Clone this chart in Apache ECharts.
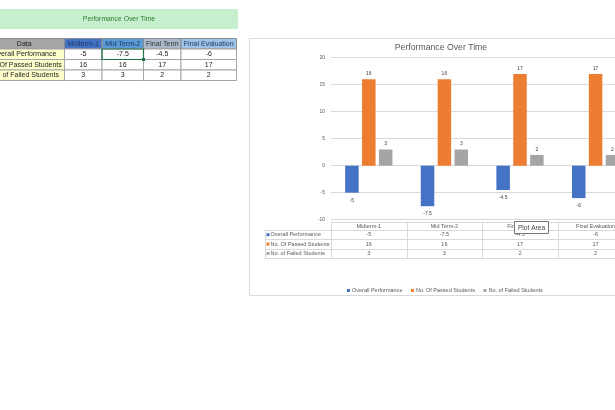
<!DOCTYPE html>
<html><head><meta charset="utf-8">
<script src="https://cdn.jsdelivr.net/npm/echarts@6/dist/echarts.min.js"></script>
<style>html,body{margin:0;padding:0;overflow:hidden;background:#fff}#c{width:660px;height:410px}</style>
</head><body><div id="c"></div>
<script>
// ---- data ----
const chartTitle = 'Performance Over Time';
const categories = ['Midterm-1', 'Mid Term-2', 'Final Term', 'Final Evaluation'];
const seriesNames = ['Overall Performance', 'No. Of Passed Students', 'No. of Failed Students'];
const overallPerformance = [-5, -7.5, -4.5, -6];
const passedStudents = [16, 16, 17, 17];
const failedStudents = [3, 3, 2, 2];
const sheetHeader = 'Data';
const yMin = -10, yMax = 20, yStep = 5;
const tooltipText = 'Plot Area';

// ---- styles ----
const FONT = '"Liberation Sans", Arial, sans-serif';
const colors = ['#4472c4', '#ed7d31', '#a5a5a5'];
const seriesValues = [overallPerformance, passedStudents, failedStudents];
const axisGray = '#595959';

const chart = echarts.init(document.getElementById('c'), null, {renderer: 'canvas'});

const gridLeft = 331, gridTop = 57.7, gridW = 302.4, gridH = 162;

const option = {
  animation: false,
  textStyle: {fontFamily: FONT},
  grid: {left: gridLeft, top: gridTop, width: gridW, height: gridH, containLabel: false},
  xAxis: {
    type: 'category', data: categories,
    axisLine: {show: false}, axisTick: {show: false}, axisLabel: {show: false},
    splitLine: {show: false}
  },
  yAxis: {
    type: 'value', min: yMin, max: yMax, interval: yStep,
    axisLine: {show: false}, axisTick: {show: false},
    axisLabel: {fontSize: 5, color: axisGray, margin: 6, fontFamily: FONT},
    splitLine: {lineStyle: {color: '#d9d9d9', width: 1}}
  },
  legend: {
    data: seriesNames, left: 342, top: 282.5, orient: 'horizontal',
    itemWidth: 3, itemHeight: 3, itemGap: 8.5, icon: 'rect',
    textStyle: {fontSize: 5.5, color: axisGray, fontFamily: FONT, padding: [0, 0, 0, -3]}
  },
  series: seriesNames.map((name, i) => ({
    name, type: 'bar', data: seriesValues[i],
    barWidth: 13.5, barGap: '25%',
    itemStyle: {color: colors[i]},
    label: {
      show: true, position: i === 0 ? 'bottom' : 'top', distance: i === 0 ? 5 : 3,
      fontSize: 5, color: '#404040', fontFamily: FONT
    }
  }))
};
chart.setOption(option);

// ---- build graphic (chart frame, data table, spreadsheet) ----
const g = [];
// chart frame
g.push({type: 'rect', shape: {x: 249.5, y: 38.5, width: 430, height: 257}, style: {fill: 'none', stroke: '#d9d9d9', lineWidth: 1}, z: 1});
// title
g.push({type: 'text', x: 441, y: 48, style: {text: chartTitle, fontSize: 8.7, fontFamily: FONT, fill: axisGray, align: 'center', verticalAlign: 'middle'}});

// data table under the plot
const centers = categories.map(c => chart.convertToPixel({xAxisIndex: 0}, c));
const band = centers[1] - centers[0];
const plotBottom = chart.convertToPixel({yAxisIndex: 0}, yMin);
const tTop = plotBottom + 2, hdrH = 8.3, rowH = 9.4;
const rowYs = [tTop, tTop + hdrH, tTop + hdrH + rowH, tTop + hdrH + 2 * rowH, tTop + hdrH + 3 * rowH];
const lblLeft = 264.7;
const colLeft = centers[0] - band / 2;
const colRight = centers[centers.length - 1] + band / 2;
const lineC = '#d9d9d9';
const hl = (x1, x2, y) => g.push({type: 'line', shape: {x1, y1: Math.round(y) + 0.5, x2, y2: Math.round(y) + 0.5}, style: {stroke: lineC, lineWidth: 1}});
const vl = (x, y1, y2) => g.push({type: 'line', shape: {x1: Math.round(x) + 0.5, y1, x2: Math.round(x) + 0.5, y2}, style: {stroke: lineC, lineWidth: 1}});
hl(colLeft, colRight, rowYs[0]);
for (let r = 1; r < rowYs.length; r++) hl(lblLeft, colRight, rowYs[r]);
vl(lblLeft, rowYs[1], rowYs[4]);
for (let i = 0; i <= categories.length; i++) vl(colLeft + i * band, rowYs[0], rowYs[4]);
categories.forEach((c, i) => g.push({type: 'text', x: centers[i], y: (rowYs[0] + rowYs[1]) / 2 + 0.5, style: {text: c, fontSize: 5.5, fontFamily: FONT, fill: axisGray, align: 'center', verticalAlign: 'middle'}}));
seriesNames.forEach((n, r) => {
  const cy = (rowYs[r + 1] + rowYs[r + 2]) / 2;
  g.push({type: 'rect', shape: {x: 266.5, y: cy - 1.5, width: 3, height: 3}, style: {fill: colors[r]}});
  g.push({type: 'text', x: 270.5, y: cy, style: {text: n, fontSize: 5.5, fontFamily: FONT, fill: axisGray, align: 'left', verticalAlign: 'middle'}});
  seriesValues[r].forEach((v, i) => g.push({type: 'text', x: centers[i], y: cy, style: {text: String(v), fontSize: 5.5, fontFamily: FONT, fill: axisGray, align: 'center', verticalAlign: 'middle'}}));
});
// hover tooltip box from the screenshot
g.push({type: 'rect', shape: {x: 514.5, y: 221.5, width: 34, height: 12}, style: {fill: '#ffffff', stroke: '#767676', lineWidth: 1}, z: 20});
g.push({type: 'text', x: 531.5, y: 228, style: {text: tooltipText, fontSize: 6.6, fontFamily: FONT, fill: '#444', align: 'center', verticalAlign: 'middle'}, z: 21});

// spreadsheet on the left
g.push({type: 'rect', shape: {x: 0, y: 9, width: 238, height: 20}, style: {fill: '#c6efce'}});
g.push({type: 'text', x: 119, y: 19, style: {text: chartTitle, fontSize: 6.8, fontFamily: FONT, fill: '#2f7d32', align: 'center', verticalAlign: 'middle'}});
const colEdges = [-16, 64.5, 102, 143.5, 181, 236.5];
const rowEdges = [38.5, 49, 59.5, 70, 80.5];
const hdrFill = ['#a6a6a6', '#4472c4', '#5b9bd5', '#acb9ca', '#9dc3e6'];
const hdrText = ['#222', '#1f3864', '#1f3864', '#333', '#1f3864'];
const sheetHeaders = [sheetHeader].concat(categories);
for (let c = 0; c < 5; c++) {
  const x = colEdges[c], w = colEdges[c + 1] - colEdges[c];
  g.push({type: 'rect', shape: {x, y: rowEdges[0], width: w, height: rowEdges[1] - rowEdges[0]}, style: {fill: hdrFill[c], stroke: '#8c8c8c', lineWidth: 1}});
  g.push({type: 'text', x: x + w / 2, y: (rowEdges[0] + rowEdges[1]) / 2, style: {text: sheetHeaders[c], fontSize: 7, fontFamily: FONT, fill: hdrText[c], align: 'center', verticalAlign: 'middle'}});
  for (let r = 0; r < 3; r++) {
    const y = rowEdges[r + 1], h = rowEdges[r + 2] - y;
    g.push({type: 'rect', shape: {x, y, width: w, height: h}, style: {fill: c === 0 ? '#ffffcc' : '#ffffff', stroke: '#a6a6a6', lineWidth: 1}});
    const t = c === 0 ? seriesNames[r] : String(seriesValues[r][c - 1]);
    g.push({type: 'text', x: x + w / 2, y: y + h / 2, style: {text: t, fontSize: 7, fontFamily: FONT, fill: '#222', align: 'center', verticalAlign: 'middle'}});
  }
}
// selected cell
g.push({type: 'rect', shape: {x: colEdges[2], y: rowEdges[1], width: colEdges[3] - colEdges[2], height: rowEdges[2] - rowEdges[1]}, style: {fill: 'none', stroke: '#217346', lineWidth: 1.2}, z: 5});
g.push({type: 'rect', shape: {x: colEdges[3] - 1.5, y: rowEdges[2] - 1.5, width: 3, height: 3}, style: {fill: '#217346'}, z: 6});

chart.setOption({graphic: {elements: g}});
</script>
</body></html>
